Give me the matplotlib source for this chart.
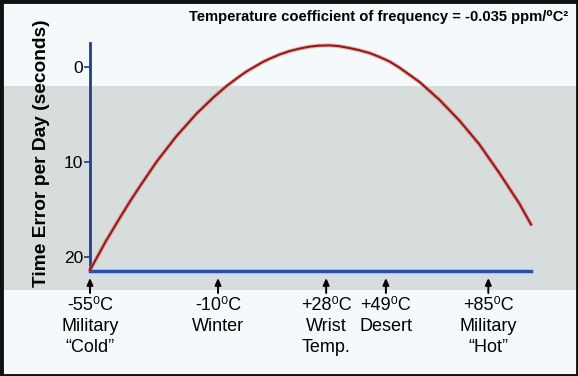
import matplotlib
matplotlib.use("Agg")
import matplotlib.pyplot as plt
from matplotlib.patches import Rectangle
import matplotlib.transforms as mtransforms

# ---- data ----
temps_c = [-55, -51.5, -49.7, -44.5, -41.0, -37.5, -31.6, -24.6, -17.6, -11.7, -7.1,
           -2.4, 0, 5.7, 8.2, 11.7, 15.2, 18.5, 22.2, 25.5, 29.2, 32.5, 36.2, 39.5,
           43.2, 47.0, 50.3, 53.8, 60.8, 67.8, 74.8, 81.8, 88.9, 95.9, 100]
time_error = [21.4, 19.5, 18.5, 15.9, 14.2, 12.6, 10.0, 7.3, 4.95, 3.25, 2.05,
              1.0, 0.5, -0.5, -0.85, -1.3, -1.65, -1.9, -2.12, -2.22, -2.25, -2.17,
              -1.97, -1.75, -1.45, -1.0, -0.55, 0.1, 1.6, 3.47, 5.65, 8.15, 11.2,
              14.4, 16.6]
y_ticks = [0, 10, 20]
marker_temps = [-55, -10, 28, 49, 85]
marker_labels = [["-55\u2070C", "Military", "\u201cCold\u201d"],
                 ["-10\u2070C", "Winter"],
                 ["+28\u2070C", "Wrist", "Temp."],
                 ["+49\u2070C", "Desert"],
                 ["+85\u2070C", "Military", "\u201cHot\u201d"]]
title_text = "Temperature coefficient of frequency = -0.035 ppm/\u2070C\u00b2"
ylabel_text = "Time Error per Day (seconds)"

W, H = 578, 376
DPI = 100
FONT = ["Liberation Sans", "DejaVu Sans"]
plt.rcParams["font.family"] = FONT

fig = plt.figure(figsize=(W / DPI, H / DPI), dpi=DPI)
fig.patch.set_facecolor("#f4fafb")

def fx(px):
    return px / W

def fy(py):
    return 1 - py / H

# grey watermark band
fig.patches.append(Rectangle((0, fy(290)), 1, (290 - 86) / H, transform=fig.transFigure,
                             facecolor="#d7dcdc", edgecolor="none", zorder=-5))
# black border
fig.patches.append(Rectangle((0.5 / W, 0.5 / H), 1 - 1.0 / W, 1 - 1.0 / H,
                             transform=fig.transFigure, facecolor="none",
                             edgecolor="#111111", linewidth=3.5, zorder=10))

ax_left, ax_right, ax_top, ax_bottom = 90, 531, 43, 271
ax = fig.add_axes([fx(ax_left), fy(ax_bottom), (ax_right - ax_left) / W,
                   (ax_bottom - ax_top) / H])
ax.set_zorder(2)
ax.patch.set_alpha(0)
ax.set_xlim(-55, 100)
ax.set_ylim(21.5, -2.5)

ax.plot(temps_c, time_error, color="#ee5a50", linewidth=3.0, alpha=0.45,
        solid_capstyle="round", solid_joinstyle="round", zorder=3, clip_on=False)
ax.plot(temps_c, time_error, color="#8e1c1c", linewidth=1.5, zorder=4,
        solid_joinstyle="round", clip_on=False)

for s in ["top", "right"]:
    ax.spines[s].set_visible(False)
ax.spines["left"].set_color("#1f3f86")
ax.spines["left"].set_linewidth(2)
ax.spines["bottom"].set_color("#2b4fb5")
ax.spines["bottom"].set_linewidth(2.5)

ax.set_xticks([])
ax.set_yticks(y_ticks)
ax.set_yticklabels([str(v) for v in y_ticks], fontsize=12.5)
ax.tick_params(axis="y", direction="out", length=4, width=1.2, color="#1f3f86",
               pad=1, labelcolor="black")

fig.text(fx(42), fy(153), ylabel_text, rotation=90, ha="center", va="center",
         fontsize=13.8, fontweight="bold")
fig.text(fx(568), fy(17), title_text, ha="right", va="center",
         fontsize=10.6, fontweight="bold")

# arrows and labels below axis
trans = mtransforms.blended_transform_factory(ax.transData, fig.transFigure)
line_y = [305, 326.5, 348]
for t, lines in zip(marker_temps, marker_labels):
    ax.annotate("", xy=(t, fy(278)), xycoords=trans, xytext=(t, fy(293)),
                textcoords=trans, annotation_clip=False,
                arrowprops=dict(arrowstyle="-|>,head_length=0.4,head_width=0.18",
                                color="black", lw=1.4, shrinkA=0, shrinkB=0))
    for i, ln in enumerate(lines):
        fig.text(0, 0, ln, transform=trans, ha="center", va="center",
                 fontsize=13).set_position((t, fy(line_y[i])))

fig.savefig("out.png", dpi=DPI, facecolor=fig.get_facecolor())
